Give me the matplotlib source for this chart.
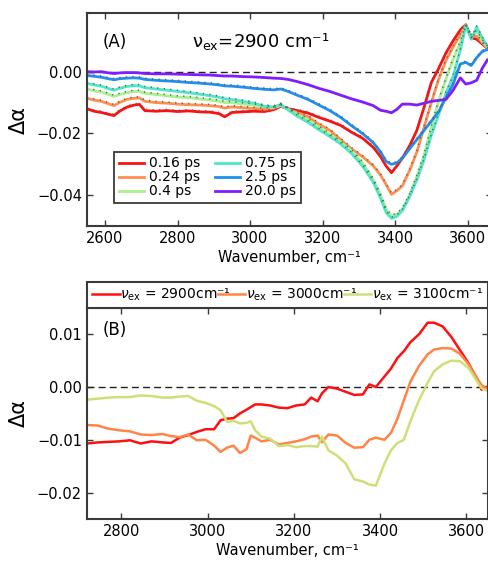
import numpy as np
import matplotlib
matplotlib.use('Agg')
import matplotlib.pyplot as plt

plt.rcParams['font.family'] = 'DejaVu Sans'
plt.rcParams['mathtext.fontset'] = 'dejavusans'

# ---- panel A: transient spectra, nu_ex = 2900 cm-1 (values in 1e-3) ----
wn_a = [2550, 2570, 2590, 2610, 2625, 2640, 2660, 2680, 2695, 2710, 2740, 2770,
        2800, 2830, 2860, 2890, 2915, 2930, 2950, 2980, 3010, 3040, 3065, 3085,
        3105, 3130, 3160, 3190, 3220, 3250, 3280, 3310, 3340, 3360, 3375, 3390,
        3405, 3420, 3440, 3460, 3480, 3500, 3520, 3540, 3560, 3580, 3595, 3610,
        3625, 3640, 3655, 3670]
delays = ['0.16 ps', '0.24 ps', '0.4 ps', '0.75 ps', '2.5 ps', '20.0 ps']
da_016 = [-12.0, -12.8, -13.2, -13.8, -14.2, -12.8, -11.5, -10.8, -10.6, -12.6, -12.8, -12.6,
          -12.9, -12.7, -13.0, -13.1, -13.6, -14.6, -13.2, -13.0, -12.8, -12.9, -12.3, -11.2,
          -12.0, -12.6, -13.4, -14.8, -16.0, -17.4, -19.6, -21.5, -24.5, -27.5, -30.5, -32.7,
          -30.5, -28.0, -24.0, -19.0, -11.5, -3.5, 1.0, 6.0, 10.0, 13.5, 15.2, 11.0,
          10.5, 9.0, 7.5, 6.0]
da_024 = [-8.6, -9.2, -9.6, -10.4, -11.0, -10.0, -9.0, -8.6, -8.5, -9.6, -10.0, -10.2,
          -10.5, -10.7, -10.8, -11.0, -11.3, -11.8, -11.4, -11.7, -11.9, -12.2, -11.8, -11.0,
          -12.3, -13.2, -14.6, -17.0, -19.0, -22.0, -25.0, -27.5, -30.5, -33.5, -36.5, -39.7,
          -38.5, -37.0, -32.0, -26.0, -18.0, -10.0, -2.5, 3.5, 8.0, 12.0, 15.0, 11.5,
          11.5, 9.5, 7.5, 6.0]
da_040 = [-5.6, -6.2, -6.6, -7.4, -8.0, -7.4, -6.8, -6.4, -6.4, -7.0, -7.4, -7.8,
          -8.2, -8.4, -8.8, -9.2, -9.6, -10.0, -10.0, -10.5, -10.8, -11.4, -11.6, -10.8,
          -12.2, -13.8, -15.6, -18.0, -20.4, -22.8, -25.6, -29.5, -35.0, -40.0, -44.5, -46.8,
          -46.2, -44.5, -40.0, -34.0, -27.0, -18.0, -9.5, -2.5, 4.0, 9.5, 15.0, 11.5,
          13.0, 10.0, 8.0, 6.5]
da_075 = [-3.8, -4.3, -4.7, -5.5, -6.0, -5.4, -4.8, -4.5, -4.6, -5.2, -5.6, -6.0,
          -6.4, -6.8, -7.3, -7.8, -8.3, -8.8, -9.0, -9.6, -10.2, -11.2, -11.4, -10.6,
          -12.4, -14.4, -16.4, -18.8, -21.0, -23.4, -26.5, -30.5, -35.8, -41.0, -45.5, -47.5,
          -46.8, -45.0, -40.5, -35.0, -28.5, -20.5, -14.0, -7.0, -1.5, 7.0, 14.8, 10.5,
          14.4, 11.0, 8.0, 6.5]
da_25 = [-1.2, -1.5, -1.8, -2.3, -2.6, -2.3, -2.1, -2.0, -2.1, -2.5, -2.8, -3.0,
         -3.2, -3.5, -3.7, -4.0, -4.3, -4.6, -4.7, -5.0, -5.4, -5.7, -5.9, -5.6,
         -6.4, -7.6, -9.0, -10.8, -12.6, -14.8, -17.5, -20.0, -23.0, -26.0, -29.0, -30.0,
         -29.5, -28.0, -25.0, -22.0, -19.0, -16.0, -13.0, -8.5, -4.0, 2.5, 3.0, 2.0,
         4.5, 6.5, 7.2, 6.0]
da_200 = [0.0, -0.1, 0.0, -0.4, -0.6, -0.4, -0.3, -0.3, -0.4, -0.6, -0.7, -0.7,
          -0.8, -0.9, -1.0, -1.1, -1.3, -1.4, -1.4, -1.6, -1.7, -1.9, -2.1, -2.2,
          -2.5, -3.2, -4.2, -5.4, -6.4, -7.6, -8.8, -9.8, -11.0, -12.5, -12.8, -13.3,
          -12.2, -10.5, -10.5, -10.8, -10.2, -9.6, -9.3, -9.0, -6.0, -2.0, -4.0, -3.6,
          -2.8, 1.0, 3.9, 3.6]

# ---- panel B: spectra for three excitation frequencies (values in 1e-3) ----
wn_b = [2720, 2745, 2770, 2795, 2820, 2845, 2870, 2895, 2915, 2935, 2955, 2975,
        2995, 3015, 3030, 3045, 3060, 3075, 3090, 3100, 3110, 3125, 3145, 3165,
        3185, 3205, 3225, 3240, 3255, 3265, 3280, 3300, 3320, 3340, 3360, 3375,
        3390, 3410, 3425, 3440, 3455, 3470, 3490, 3510, 3525, 3545, 3565, 3585,
        3605, 3625, 3635, 3645]
ex_labels = [r'$\nu_{\rm ex}$ = 2900cm⁻¹', r'$\nu_{\rm ex}$ = 3000cm⁻¹',
             r'$\nu_{\rm ex}$ = 3100cm⁻¹']
ex_2900 = [-10.7, -10.5, -10.4, -10.3, -10.1, -10.7, -10.3, -10.5, -10.6, -9.6, -9.1, -8.5,
           -8.0, -8.0, -6.3, -6.0, -5.9, -5.0, -4.3, -3.8, -3.3, -3.3, -3.5, -3.9,
           -4.0, -3.5, -3.3, -2.0, -2.7, -1.2, 0.0, -0.3, -0.9, -1.5, -1.4, 0.5,
           0.0, 2.0, 3.5, 5.5, 6.8, 8.5, 10.0, 12.2, 12.2, 11.5, 9.5, 7.0,
           4.5, 1.5, -0.5, 0.0]
ex_3000 = [-7.2, -7.3, -7.9, -8.2, -8.4, -9.0, -9.1, -8.9, -9.3, -9.5, -9.0, -10.1,
           -10.0, -11.1, -12.3, -11.5, -11.1, -12.5, -11.8, -9.2, -9.6, -10.3, -10.0, -10.9,
           -10.6, -10.3, -9.9, -9.4, -9.2, -10.5, -9.0, -9.2, -10.6, -11.5, -11.4, -10.0,
           -9.6, -10.0, -8.7, -6.0, -2.5, 1.0, 4.0, 6.2, 7.1, 7.4, 7.3, 6.3,
           4.3, 1.6, 0.4, -0.2]
ex_3100 = [-2.4, -2.2, -2.0, -1.9, -1.9, -1.6, -1.7, -2.0, -2.0, -1.8, -1.7, -2.6,
           -3.0, -3.6, -4.4, -6.6, -6.4, -6.9, -6.8, -6.5, -8.2, -9.4, -9.8, -11.2,
           -11.0, -11.4, -11.2, -11.2, -11.3, -9.4, -12.0, -13.0, -14.5, -17.5, -17.9, -18.5,
           -18.7, -14.5, -12.0, -10.6, -10.0, -6.5, -2.5, 0.8, 3.0, 4.3, 5.0, 4.9,
           3.6, 1.0, -0.2, -0.6]

colors_a = ['#ff1010', '#ff8f4f', '#a9f08e', '#4de8c8', '#1f8ff0', '#7f1dff']
colors_b = ['#ff1010', '#ff8446', '#cfdf78']
spine_col = '#3a3a3a'


def style_axes(ax):
    for s in ax.spines.values():
        s.set_color(spine_col)
        s.set_linewidth(1.5)
    ax.tick_params(direction='in', top=True, right=True, labelsize=10.5,
                   length=4, width=1, color=spine_col)
    ax.set_xlabel('Wavenumber, cm⁻¹', fontsize=10.5, labelpad=3)
    ax.set_ylabel('\u0394\u03b1', fontsize=15, labelpad=6)


fig = plt.figure(figsize=(4.88, 5.64), dpi=100)

# panel A
ax1 = fig.add_axes([0.178, 0.599, 0.83, 0.378])
ax1.axhline(0, color='#222222', ls='--', lw=1.0, dashes=(5, 3))
series_a = [da_016, da_024, da_040, da_075, da_25, da_200]
wa = np.array(wn_a)
for vals, c, lab in zip(series_a, colors_a, delays):
    ax1.plot(wa, np.array(vals) * 1e-3, color=c, lw=2, label=lab)
# fit curves, grey dots
for vals in series_a[:5]:
    ax1.plot(wa, np.array(vals) * 1e-3 + 0.0004, color='#606060', lw=1.1,
             ls=(0, (0.8, 3.5)))
ax1.set_xlim(2550, 3667)
ax1.set_ylim(-0.05, 0.019)
ax1.set_xticks([2600, 2800, 3000, 3200, 3400, 3600])
ax1.set_yticks([-0.04, -0.02, 0.0])
ax1.set_yticklabels(['\u22120.04', '\u22120.02', '0.00'])
style_axes(ax1)
ax1.text(0.04, 0.84, '(A)', transform=ax1.transAxes, fontsize=12)
ax1.text(0.26, 0.84, r'$\mathregular{\nu_{ex}}$=2900 cm⁻¹',
         transform=ax1.transAxes, fontsize=13)
leg1 = ax1.legend(loc='lower left', bbox_to_anchor=(0.05, 0.075), ncol=2,
                  fontsize=10, handlelength=1.8, handletextpad=0.4,
                  columnspacing=1.0, labelspacing=0.0, borderpad=0.35,
                  fancybox=False, framealpha=1)
leg1.get_frame().set_edgecolor(spine_col)
leg1.get_frame().set_linewidth(1.3)

# panel B
ax2 = fig.add_axes([0.178, 0.08, 0.822, 0.374])
ax2.axhline(0, color='#222222', ls='--', lw=1.0, dashes=(5, 3))
wb = np.array(wn_b)
for vals, c, lab in zip([ex_2900, ex_3000, ex_3100], colors_b, ex_labels):
    ax2.plot(wb, np.array(vals) * 1e-3, color=c, lw=1.8, label=lab)
ax2.set_xlim(2720, 3650)
ax2.set_ylim(-0.025, 0.015)
ax2.set_xticks([2800, 3000, 3200, 3400, 3600])
ax2.set_yticks([-0.02, -0.01, 0.0, 0.01])
ax2.set_yticklabels(['\u22120.02', '\u22120.01', '0.00', '0.01'])
style_axes(ax2)
ax2.text(0.04, 0.87, '(B)', transform=ax2.transAxes, fontsize=12)
leg2 = ax2.legend(loc='lower left', bbox_to_anchor=(0, 1.0, 1.0, 0.14),
                  mode='expand', ncol=3, borderaxespad=0, fontsize=10,
                  handlelength=2.0, handletextpad=0.05, columnspacing=0.3,
                  borderpad=0.35, fancybox=False, framealpha=1)
leg2.get_frame().set_edgecolor(spine_col)
leg2.get_frame().set_linewidth(1.5)

fig.savefig('out.png', dpi=100)
